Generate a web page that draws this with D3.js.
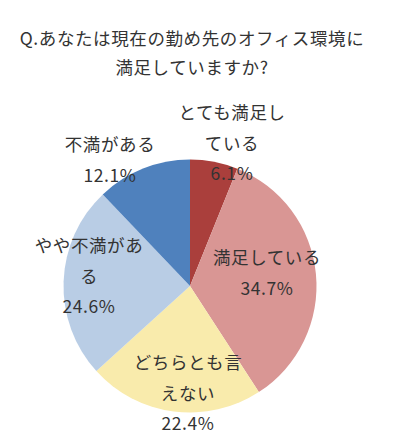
<!DOCTYPE html>
<html>
<head>
<meta charset="utf-8">
<script src="https://cdn.jsdelivr.net/npm/d3@7"></script>
<style>
  html, body { margin: 0; padding: 0; background: #ffffff; }
  svg { display: block; }
  text { font-family: "Noto Sans CJK JP", "Noto Sans", sans-serif; fill: #333333; letter-spacing: 0.6px; }
</style>
</head>
<body>
<svg id="chart" width="398" height="446"></svg>
<script>
// ---- data ----
const titleLines = ["Q.あなたは現在の勤め先のオフィス環境に", "満足していますか?"];
const categories = ["とても満足している", "満足している", "どちらとも言えない", "やや不満がある", "不満がある"];
const values = [6.1, 34.7, 22.4, 24.6, 12.1];
const labelLines = [
  ["とても満足し", "ている"],
  ["満足している"],
  ["どちらとも言", "えない"],
  ["やや不満があ", "る"],
  ["不満がある"]
];
const colors = ["#AA3F3C", "#D99694", "#F9EBAC", "#B9CDE5", "#4F81BD"];

// ---- layout ----
const W = 398, H = 446;
const cx = 190, cy = 286, R = 126.5;
const fontSize = 17.5;
const lineH = 30.5;
// label block centres relative to pie centre
const labelOffsets = [[42, -144], [77, -14], [-2, 106], [-101, -11], [-80, -127]];

const svg = d3.select("#chart");

svg.selectAll("text.title")
  .data(titleLines)
  .join("text")
  .attr("class", "title")
  .attr("x", 192)
  .attr("y", (d, i) => 37 + i * 29)
  .attr("text-anchor", "middle")
  .attr("dominant-baseline", "central")
  .style("font-size", fontSize + "px")
  .text(d => d);

const data = categories.map((c, i) => ({ name: c, value: values[i], lines: labelLines[i].concat([values[i].toFixed(1) + "%"]), color: colors[i], off: labelOffsets[i] }));

const pie = d3.pie().sort(null).value(d => d.value);
const arc = d3.arc().innerRadius(0).outerRadius(R);

const g = svg.append("g").attr("transform", `translate(${cx},${cy})`);

g.selectAll("path")
  .data(pie(data))
  .join("path")
  .attr("d", arc)
  .attr("fill", d => d.data.color);

const labels = g.selectAll("g.lbl")
  .data(pie(data))
  .join("g")
  .attr("class", "lbl")
  .attr("transform", d => `translate(${d.data.off[0]},${d.data.off[1]})`);

labels.selectAll("text")
  .data(d => d.data.lines.map((t, i, arr) => ({ t, i, n: arr.length })))
  .join("text")
  .attr("x", 0)
  .attr("y", d => (d.i - (d.n - 1) / 2) * lineH)
  .attr("text-anchor", "middle")
  .attr("dominant-baseline", "central")
  .style("font-size", fontSize + "px")
  .text(d => d.t);
</script>
</body>
</html>
